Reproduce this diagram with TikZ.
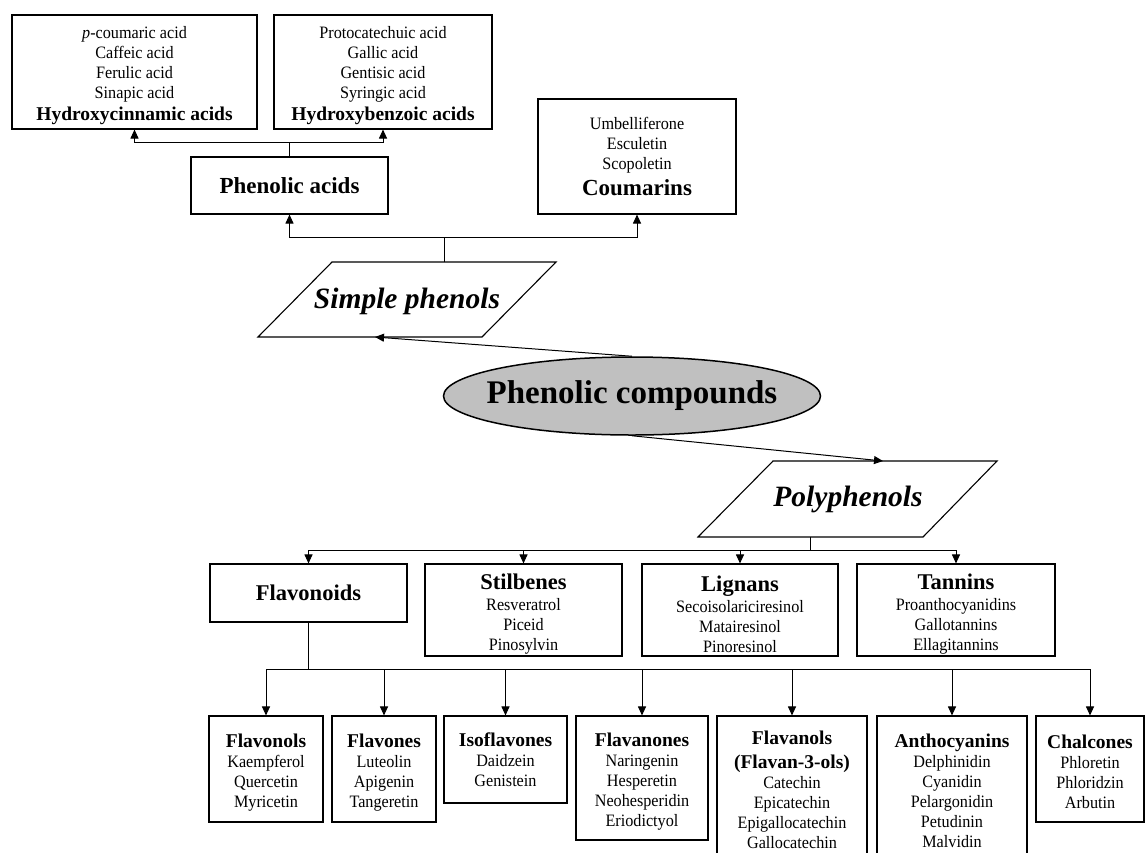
\documentclass[tikz,border=0pt]{standalone}
\usepackage{fontspec}
\setmainfont{Liberation Serif}
\newfontfamily\bodyfam[FakeStretch=0.93]{Liberation Serif}
\usetikzlibrary{shapes.geometric,arrows.meta,calc}
\newcommand{\fsBody}{\bodyfam\fontsize{17.4}{20}\selectfont}
\newcommand{\fsHA}{\rmfamily\fontsize{19.5}{22}\selectfont\bfseries}
\newcommand{\fsHB}{\rmfamily\fontsize{23}{26}\selectfont\bfseries}
\newcommand{\fsHC}{\rmfamily\fontsize{22.5}{25}\selectfont\bfseries}
\newcommand{\fsPara}{\fontsize{29.5}{32}\selectfont\bfseries\itshape}
\newcommand{\fsEll}{\fontsize{33}{36}\selectfont\bfseries}
\newcommand{\upstrut}[1]{\rule{0pt}{#1}}
\begin{document}
\begin{tikzpicture}[x=1pt,y=-1pt,
  box/.style={draw, line width=1.1pt, inner sep=0pt, align=center, font=\fsBody},
  arr/.style={line width=1pt, -{Triangle[length=9pt,width=8pt]}},
  para/.style={line width=1.1pt}]
\useasboundingbox (0,0) rectangle (1145,852);
% top boxes
\node[box, minimum width=245pt, minimum height=114pt] (hc) at (134.5,72)
  {\upstrut{18.5pt}{\itshape p}-coumaric acid\\Caffeic acid\\Ferulic acid\\Sinapic acid\\[2pt]{\fsHA Hydroxycinnamic acids}};
\node[box, minimum width=218pt, minimum height=114pt] (hb) at (383,72)
  {\upstrut{18.5pt}Protocatechuic acid\\Gallic acid\\Gentisic acid\\Syringic acid\\[2pt]{\fsHA Hydroxybenzoic acids}};
\node[box, minimum width=197pt, minimum height=57pt] (pa) at (289.5,185.5) {{\fsHB Phenolic acids}};
\node[box, minimum width=198pt, minimum height=115pt] (cm) at (637,156.5)
  {Umbelliferone\\Esculetin\\Scopoletin\\[6pt]{\fsHB Coumarins}};
% simple phenols
\node[font=\fsPara, inner sep=0pt] (sp) at (407,301) {Simple phenols};
\draw[para] ($(sp)+(-75,-39)$) -- ($(sp)+(149,-39)$) -- ($(sp)+(75,36)$) -- ($(sp)+(-149,36)$) -- cycle;
\coordinate (sp-t) at ($(sp)+(37,-39)$);
\coordinate (sp-b) at ($(sp)+(-32,36)$);
% ellipse
\node[ellipse, draw, line width=1.5pt, fill={rgb,255:red,192;green,192;blue,192},
  minimum width=377pt, minimum height=78pt, inner xsep=-13pt, inner ysep=0pt, font=\fsEll] (pc) at (632,396) {Phenolic compounds};
% polyphenols
\node[font=\fsPara, inner sep=0pt] (pp) at (848,499) {Polyphenols};
\draw[para] ($(pp)+(-75,-38)$) -- ($(pp)+(149,-38)$) -- ($(pp)+(75,38)$) -- ($(pp)+(-150,38)$) -- cycle;
\coordinate (pp-t) at ($(pp)+(35,-38)$);
\coordinate (pp-b) at ($(pp)+(-37.5,38)$);
% middle row
\node[box, minimum width=197pt, minimum height=58pt] (fl) at (308.5,593) {{\fsHC Flavonoids}};
\node[box, minimum width=197pt, minimum height=92pt] (st) at (523.5,610)
  {{\fsHC\upstrut{24.5pt}Stilbenes}\\[1pt]Resveratrol\\Piceid\\Pinosylvin};
\node[box, minimum width=196pt, minimum height=92pt] (lg) at (740,610)
  {{\fsHC\upstrut{24.5pt}Lignans}\\[1pt]Secoisolariciresinol\\Matairesinol\\Pinoresinol};
\node[box, minimum width=198pt, minimum height=92pt] (tn) at (956,610)
  {{\fsHC\upstrut{24.5pt}Tannins}\\[1pt]Proanthocyanidins\\Gallotannins\\Ellagitannins};
% bottom row
\node[box, minimum width=114pt, minimum height=106pt] (fo) at (266,769)
  {{\fsHA\upstrut{20pt}Flavonols}\\Kaempferol\\Quercetin\\Myricetin};
\node[box, minimum width=104pt, minimum height=106pt] (fe) at (384,769)
  {{\fsHA\upstrut{20pt}Flavones}\\Luteolin\\Apigenin\\Tangeretin};
\node[box, minimum width=123pt, minimum height=87pt] (iso) at (505.5,759.5)
  {{\fsHA Isoflavones}\\Daidzein\\Genistein};
\node[box, minimum width=132pt, minimum height=124pt] (fn) at (642,778)
  {{\fsHA\upstrut{21.5pt}Flavanones}\\Naringenin\\Hesperetin\\Neohesperidin\\Eriodictyol};
\node[box, minimum width=150pt, minimum height=148pt] (fa) at (792,790)
  {{\fsHA Flavanols}\\[4pt]{\fsHA (Flavan-3-ols)}\\Catechin\\Epicatechin\\Epigallocatechin\\Gallocatechin};
\node[box, minimum width=150pt, minimum height=150pt] (an) at (952,791)
  {{\fsHA Anthocyanins}\\Delphinidin\\Cyanidin\\Pelargonidin\\Petudinin\\Malvidin};
\node[box, minimum width=108pt, minimum height=106pt] (ch) at (1090,769)
  {{\fsHA\upstrut{18.5pt}Chalcones}\\Phloretin\\Phloridzin\\Arbutin};
% connectors
\draw[arr] (pa.north) -- ++(0,-14) -| (hc.south);
\draw[arr] (pa.north) -- ++(0,-14) -| (hb.south);
\draw[arr] (sp-t) -- ++(0,-25) -| (pa.south);
\draw[arr] (sp-t) -- ++(0,-25) -| (cm.south);
\draw[arr] (pc.north) -- (sp-b);
\draw[arr] (pc.south) -- (pp-t);
\draw[arr] (pp-b) -- ++(0,13) -| (fl.north);
\draw[arr] (pp-b) -- ++(0,13) -| (st.north);
\draw[arr] (pp-b) -- ++(0,13) -| (lg.north);
\draw[arr] (pp-b) -- ++(0,13) -| (tn.north);
\foreach \t in {fo,fe,iso,fn,fa,an,ch}
  \draw[arr] (fl.south) -- ++(0,47) -| (\t.north);
\end{tikzpicture}
\end{document}
